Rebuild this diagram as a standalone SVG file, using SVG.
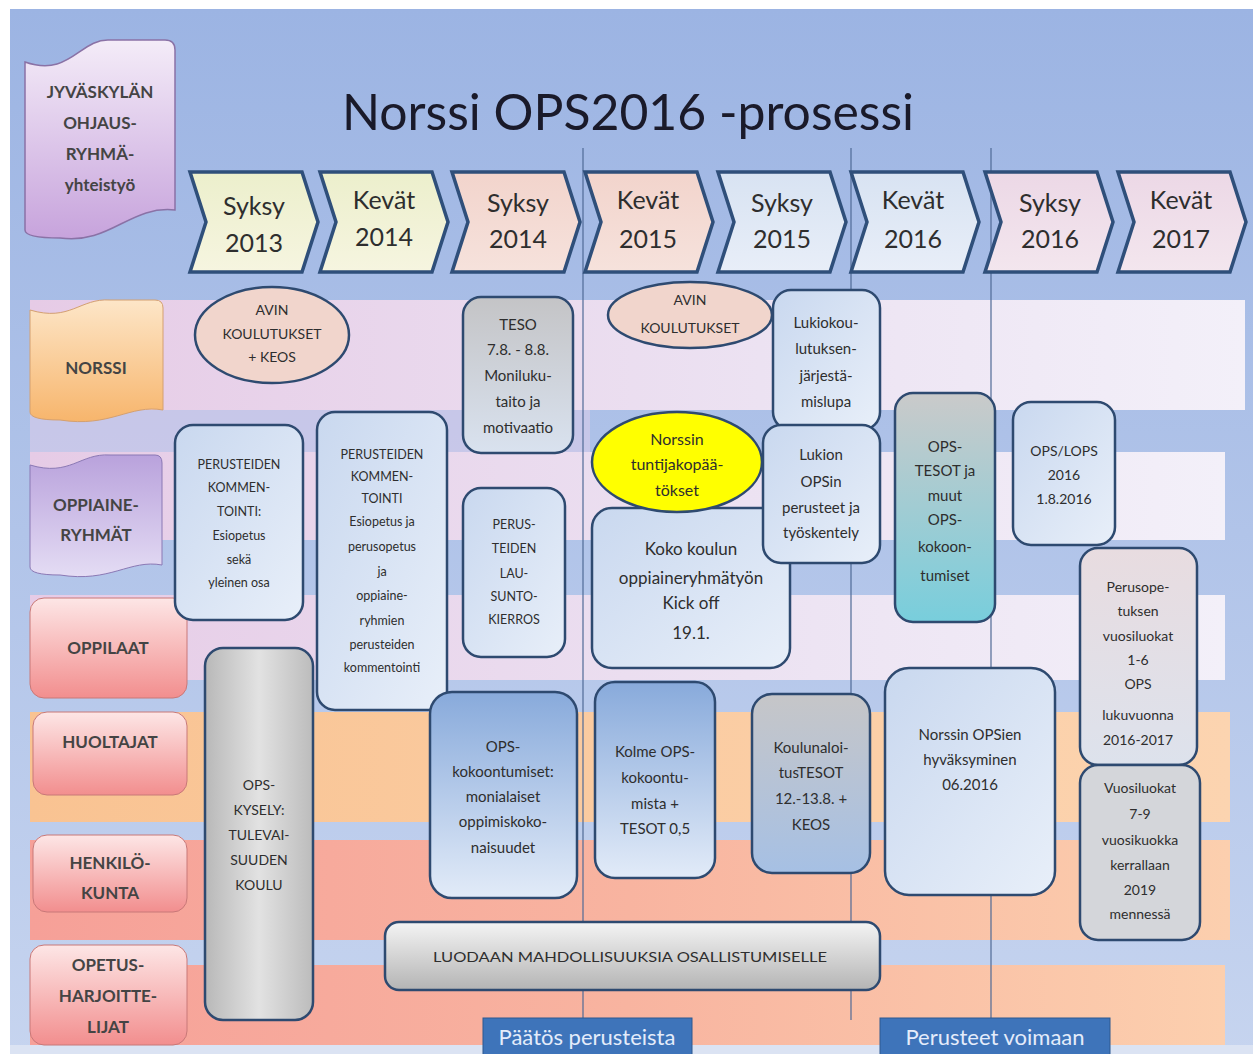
<svg xmlns="http://www.w3.org/2000/svg" width="1253" height="1054" viewBox="0 0 1253 1054">
<defs>
<linearGradient id="bg" x1="0" y1="0" x2="0" y2="1"><stop offset="0" stop-color="#9cb4e3"/><stop offset="1" stop-color="#c6d4ef"/></linearGradient>
<linearGradient id="bandLav" x1="0" y1="0" x2="1" y2="0"><stop offset="0" stop-color="#e6cbe6"/><stop offset="0.6" stop-color="#ece2f2"/><stop offset="1" stop-color="#f3f0f9"/></linearGradient>
<linearGradient id="bandOr" x1="0" y1="0" x2="1" y2="0"><stop offset="0" stop-color="#f9c392"/><stop offset="1" stop-color="#fcd4b0"/></linearGradient>
<linearGradient id="bandSal" x1="0" y1="0" x2="1" y2="0"><stop offset="0" stop-color="#f6a098"/><stop offset="0.5" stop-color="#f8b4a0"/><stop offset="1" stop-color="#fccfae"/></linearGradient>
<linearGradient id="gJyv" x1="0" y1="0" x2="0" y2="1"><stop offset="0" stop-color="#f4ecf8"/><stop offset="1" stop-color="#c7a3dc"/></linearGradient>
<linearGradient id="gNor" x1="0" y1="0" x2="0" y2="1"><stop offset="0" stop-color="#fde6c8"/><stop offset="1" stop-color="#f7b56c"/></linearGradient>
<linearGradient id="gOpp" x1="0" y1="0" x2="0" y2="1"><stop offset="0" stop-color="#b9a2dc"/><stop offset="1" stop-color="#e4dcf4"/></linearGradient>
<linearGradient id="gPink" x1="0" y1="0" x2="0" y2="1"><stop offset="0" stop-color="#fde6e6"/><stop offset="1" stop-color="#f28e8e"/></linearGradient>
<linearGradient id="cY" x1="0" y1="0" x2="0" y2="1"><stop offset="0" stop-color="#ecefcc"/><stop offset="1" stop-color="#f6f5e0"/></linearGradient>
<linearGradient id="cP" x1="0" y1="0" x2="0" y2="1"><stop offset="0" stop-color="#f2d4cc"/><stop offset="1" stop-color="#f6e2dc"/></linearGradient>
<linearGradient id="cB" x1="0" y1="0" x2="0" y2="1"><stop offset="0" stop-color="#d8e3f2"/><stop offset="1" stop-color="#e8eef8"/></linearGradient>
<linearGradient id="cL" x1="0" y1="0" x2="0" y2="1"><stop offset="0" stop-color="#ecd8e6"/><stop offset="1" stop-color="#f3e6ee"/></linearGradient>
<linearGradient id="gBL" x1="0" y1="0" x2="1" y2="1"><stop offset="0" stop-color="#c9d8ef"/><stop offset="1" stop-color="#e8eff9"/></linearGradient>
<linearGradient id="gBM" x1="0" y1="0" x2="0" y2="1"><stop offset="0" stop-color="#88aadb"/><stop offset="1" stop-color="#e2ebf8"/></linearGradient>
<linearGradient id="gGray" x1="0" y1="0" x2="0" y2="1"><stop offset="0" stop-color="#c4c4c6"/><stop offset="1" stop-color="#d9e2ef"/></linearGradient>
<linearGradient id="gGB" x1="0" y1="0" x2="0" y2="1"><stop offset="0" stop-color="#c6c6c8"/><stop offset="1" stop-color="#a6c0e4"/></linearGradient>
<linearGradient id="gTeal" x1="0" y1="0" x2="0" y2="1"><stop offset="0" stop-color="#cacaca"/><stop offset="1" stop-color="#78cedc"/></linearGradient>
<linearGradient id="gKys" x1="0" y1="0" x2="1" y2="0"><stop offset="0" stop-color="#b8b8b8"/><stop offset="0.5" stop-color="#e2e2e2"/><stop offset="1" stop-color="#bcbcbc"/></linearGradient>
<linearGradient id="gLuo" x1="0" y1="0" x2="0" y2="1"><stop offset="0" stop-color="#f4f4f4"/><stop offset="1" stop-color="#b4b4b4"/></linearGradient>
<linearGradient id="gPer" x1="0" y1="0" x2="0" y2="1"><stop offset="0" stop-color="#e8dce0"/><stop offset="1" stop-color="#dde2ec"/></linearGradient>
<style>
text{font-family:Lato,"Liberation Sans",sans-serif;fill:#2e2e2e;text-anchor:middle}
.lab{font-size:17px;font-weight:bold;fill:#444}
.chev{stroke:#2f4f7a;stroke-width:3.5}
.ct{font-size:25px;fill:#2e2e2e}
.box{stroke:#2e4a70;stroke-width:2.5}
.s13{font-size:12.5px}
.s14{font-size:14px}
.s15{font-size:15px}
.s16{font-size:16px}
.s17{font-size:17px}
.vl{stroke:#4f6a96;stroke-width:1.2}
.tag{fill:#3e74ba;stroke:#2d5890;stroke-width:1}
.tagt{font-size:22px;fill:#e4ecfa}
</style>
</defs>
<rect width="1253" height="1054" fill="#ffffff"/>
<rect x="10" y="9" width="1243" height="1045" fill="url(#bg)"/>
<rect x="10" y="1045" width="1243" height="9" fill="#dbe3f3"/>
<g id="bands">
<rect x="30" y="300" width="1215" height="110" fill="url(#bandLav)"/>
<rect x="30" y="410" width="560" height="42" fill="#d9cce9" opacity="0.6"/>
<rect x="30" y="452" width="1195" height="88" fill="url(#bandLav)"/>
<rect x="30" y="595" width="1195" height="85" fill="url(#bandLav)"/>
<rect x="30" y="712" width="1200" height="110" fill="url(#bandOr)"/>
<rect x="30" y="840" width="1200" height="100" fill="url(#bandSal)"/>
<rect x="30" y="965" width="1195" height="80" fill="url(#bandSal)"/>
</g>
<g id="connectors">
<line class="vl" x1="583" y1="148" x2="583" y2="1020"/>
<line class="vl" x1="851" y1="148" x2="851" y2="1020"/>
<line class="vl" x1="991" y1="148" x2="991" y2="1020"/>
</g>
<g id="title"><text x="628" y="130" style="font-size:50px;fill:#1a1a2a" textLength="572" lengthAdjust="spacingAndGlyphs">Norssi OPS2016 -prosessi</text></g>
<g id="jyvaskyla">
<path d="M25,62 C70,78 80,38 110,40 L165,40 Q175,40 175,50 L175,210 C130,205 110,245 60,238 Q25,238 25,230 Z" fill="url(#gJyv)" stroke="#8a72a6" stroke-width="1.5"/>
<text class="lab" x="100" y="98">JYVÄSKYLÄN</text>
<text class="lab" x="100" y="129">OHJAUS-</text>
<text class="lab" x="100" y="160">RYHMÄ-</text>
<text class="lab" x="100" y="191">yhteistyö</text>
</g>
<g id="chevrons">
<g id="c1"><path class="chev" d="M190,172 L302,172 L318,222 L302,272 L190,272 L206,222 Z" fill="url(#cY)"/><text class="ct" x="254" y="215">Syksy</text><text class="ct" x="254" y="252">2013</text></g>
<g id="c2"><path class="chev" d="M320,172 L432,172 L448,222 L432,272 L320,272 L336,222 Z" fill="url(#cY)"/><text class="ct" x="384" y="209">Kevät</text><text class="ct" x="384" y="246">2014</text></g>
<g id="c3"><path class="chev" d="M452,172 L564,172 L580,222 L564,272 L452,272 L468,222 Z" fill="url(#cP)"/><text class="ct" x="518" y="212">Syksy</text><text class="ct" x="518" y="248">2014</text></g>
<g id="c4"><path class="chev" d="M585,172 L697,172 L713,222 L697,272 L585,272 L601,222 Z" fill="url(#cP)"/><text class="ct" x="648" y="209">Kevät</text><text class="ct" x="648" y="248">2015</text></g>
<g id="c5"><path class="chev" d="M718,172 L830,172 L846,222 L830,272 L718,272 L734,222 Z" fill="url(#cB)"/><text class="ct" x="782" y="212">Syksy</text><text class="ct" x="782" y="248">2015</text></g>
<g id="c6"><path class="chev" d="M851,172 L963,172 L979,222 L963,272 L851,272 L867,222 Z" fill="url(#cB)"/><text class="ct" x="913" y="209">Kevät</text><text class="ct" x="913" y="248">2016</text></g>
<g id="c7"><path class="chev" d="M985,172 L1097,172 L1113,222 L1097,272 L985,272 L1001,222 Z" fill="url(#cL)"/><text class="ct" x="1050" y="212">Syksy</text><text class="ct" x="1050" y="248">2016</text></g>
<g id="c8"><path class="chev" d="M1118,172 L1230,172 L1246,222 L1230,272 L1118,272 L1134,222 Z" fill="url(#cL)"/><text class="ct" x="1181" y="209">Kevät</text><text class="ct" x="1181" y="248">2017</text></g>
</g>
<g id="row-labels">
<g id="norssi"><path d="M30,310 C70,322 80,298 110,300 L155,300 Q163,300 163,308 L163,410 C130,404 110,428 60,420 Q30,420 30,412 Z" fill="url(#gNor)" stroke="#d4a070" stroke-width="1"/><text class="lab" x="96" y="374">NORSSI</text></g>
<g id="oppiaineryhmat"><path d="M30,465 C70,477 80,453 110,455 L155,455 Q162,455 162,463 L162,565 C130,559 110,583 60,575 Q30,575 30,567 Z" fill="url(#gOpp)" stroke="#8a78b4" stroke-width="1"/><text class="lab" x="96" y="511">OPPIAINE-</text><text class="lab" x="96" y="541">RYHMÄT</text></g>
<g id="oppilaat"><rect x="30" y="598" width="157" height="100" rx="14" fill="url(#gPink)" stroke="#c87878" stroke-width="1"/><text class="lab" x="108" y="654">OPPILAAT</text></g>
<g id="huoltajat"><rect x="33" y="712" width="154" height="83" rx="14" fill="url(#gPink)" stroke="#c87878" stroke-width="1"/><text class="lab" x="110" y="748">HUOLTAJAT</text></g>
<g id="henkilokunta"><rect x="33" y="835" width="154" height="77" rx="14" fill="url(#gPink)" stroke="#c87878" stroke-width="1"/><text class="lab" x="110" y="869">HENKILÖ-</text><text class="lab" x="110" y="899">KUNTA</text></g>
<g id="opetusharjoittelijat"><rect x="30" y="945" width="157" height="100" rx="14" fill="url(#gPink)" stroke="#c87878" stroke-width="1"/><text class="lab" x="108" y="971">OPETUS-</text><text class="lab" x="108" y="1002">HARJOITTE-</text><text class="lab" x="108" y="1033">LIJAT</text></g>
</g>
<g id="n-kysely"><rect class="box" x="205" y="648" width="108" height="372" rx="18" fill="url(#gKys)"/><text class="s14" x="259" y="790">OPS-</text><text class="s14" x="259" y="815">KYSELY:</text><text class="s14" x="259" y="840">TULEVAI-</text><text class="s14" x="259" y="865">SUUDEN</text><text class="s14" x="259" y="890">KOULU</text></g>
<g id="n-avin1"><ellipse class="box" cx="272" cy="335" rx="77" ry="48" fill="#f1d5cc" stroke-width="2"/><text class="s14" x="272" y="315">AVIN</text><text class="s14" x="272" y="339">KOULUTUKSET</text><text class="s14" x="272" y="362">+ KEOS</text></g>
<g id="n-teso"><rect class="box" x="463" y="297" width="110" height="156" rx="18" fill="url(#gGray)"/><text class="s15" x="518" y="330">TESO</text><text class="s15" x="518" y="355">7.8. - 8.8.</text><text class="s15" x="518" y="381">Moniluku-</text><text class="s15" x="518" y="407">taito ja</text><text class="s15" x="518" y="433">motivaatio</text></g>
<g id="n-avin2"><ellipse class="box" cx="690" cy="315" rx="82" ry="33" fill="#f1d5cc" stroke-width="2"/><text class="s14" x="690" y="305">AVIN</text><text class="s14" x="690" y="333">KOULUTUKSET</text></g>
<g id="n-lukiokoulutus"><rect class="box" x="773" y="290" width="107" height="140" rx="18" fill="url(#gBL)"/><text class="s15" x="826" y="328">Lukiokou-</text><text class="s15" x="826" y="354">lutuksen-</text><text class="s15" x="826" y="381">järjestä-</text><text class="s15" x="826" y="407">mislupa</text></g>
<g id="n-perusteiden1"><rect class="box" x="175" y="425" width="128" height="195" rx="18" fill="url(#gBL)"/><text class="s13" x="239" y="469">PERUSTEIDEN</text><text class="s13" x="239" y="492">KOMMEN-</text><text class="s13" x="239" y="516">TOINTI:</text><text class="s13" x="239" y="540">Esiopetus</text><text class="s13" x="239" y="564">sekä</text><text class="s13" x="239" y="587">yleinen osa</text></g>
<g id="n-perusteiden2"><rect class="box" x="317" y="412" width="130" height="298" rx="18" fill="url(#gBL)"/><text class="s13" x="382" y="459">PERUSTEIDEN</text><text class="s13" x="382" y="481">KOMMEN-</text><text class="s13" x="382" y="503">TOINTI</text><text class="s13" x="382" y="526">Esiopetus ja</text><text class="s13" x="382" y="551">perusopetus</text><text class="s13" x="382" y="576">ja</text><text class="s13" x="382" y="600">oppiaine-</text><text class="s13" x="382" y="625">ryhmien</text><text class="s13" x="382" y="649">perusteiden</text><text class="s13" x="382" y="672">kommentointi</text></g>
<g id="n-lausunto"><rect class="box" x="463" y="488" width="102" height="169" rx="18" fill="url(#gBL)"/><text class="s13" x="514" y="529">PERUS-</text><text class="s13" x="514" y="553">TEIDEN</text><text class="s13" x="514" y="578">LAU-</text><text class="s13" x="514" y="601">SUNTO-</text><text class="s13" x="514" y="624">KIERROS</text></g>
<g id="n-kickoff"><rect class="box" x="592" y="508" width="198" height="160" rx="20" fill="url(#gBL)"/><text class="s17" x="691" y="555">Koko koulun</text><text class="s17" x="691" y="584">oppiaineryhmätyön</text><text class="s17" x="691" y="609">Kick off</text><text class="s17" x="691" y="639">19.1.</text></g>
<g id="n-lukion"><rect class="box" x="763" y="425" width="117" height="138" rx="18" fill="url(#gBL)"/><text class="s15" x="821" y="460">Lukion</text><text class="s15" x="821" y="487">OPSin</text><text class="s15" x="821" y="513">perusteet ja</text><text class="s15" x="821" y="538">työskentely</text></g>
<g id="n-tuntijako"><ellipse class="box" cx="677" cy="462" rx="85" ry="50" fill="#ffff00"/><text class="s16" x="677" y="445">Norssin</text><text class="s16" x="677" y="470">tuntijakopää-</text><text class="s16" x="677" y="496">tökset</text></g>
<g id="n-opstesot"><rect class="box" x="895" y="393" width="100" height="229" rx="18" fill="url(#gTeal)"/><text class="s15" x="945" y="452">OPS-</text><text class="s15" x="945" y="476">TESOT ja</text><text class="s15" x="945" y="501">muut</text><text class="s15" x="945" y="525">OPS-</text><text class="s15" x="945" y="552">kokoon-</text><text class="s15" x="945" y="581">tumiset</text></g>
<g id="n-opslops"><rect class="box" x="1013" y="402" width="102" height="143" rx="18" fill="url(#gBL)"/><text class="s14" x="1064" y="456">OPS/LOPS</text><text class="s14" x="1064" y="480">2016</text><text class="s14" x="1064" y="504">1.8.2016</text></g>
<g id="n-perusopetus"><rect class="box" x="1080" y="548" width="117" height="217" rx="18" fill="url(#gPer)"/><text class="s14" x="1138" y="592">Perusope-</text><text class="s14" x="1138" y="616">tuksen</text><text class="s14" x="1138" y="641">vuosiluokat</text><text class="s14" x="1138" y="665">1-6</text><text class="s14" x="1138" y="689">OPS</text><text class="s14" x="1138" y="720">lukuvuonna</text><text class="s14" x="1138" y="745">2016-2017</text></g>
<g id="n-vuosiluokat"><rect class="box" x="1080" y="765" width="120" height="175" rx="18" fill="#d4d6da" stroke="#2a3a52" stroke-width="3"/><text class="s14" x="1140" y="793">Vuosiluokat</text><text class="s14" x="1140" y="819">7-9</text><text class="s14" x="1140" y="845">vuosikuokka</text><text class="s14" x="1140" y="870">kerrallaan</text><text class="s14" x="1140" y="895">2019</text><text class="s14" x="1140" y="919">mennessä</text></g>
<g id="n-monialaiset"><rect class="box" x="430" y="692" width="147" height="206" rx="22" fill="url(#gBM)"/><text class="s15" x="503" y="752">OPS-</text><text class="s15" x="503" y="777">kokoontumiset:</text><text class="s15" x="503" y="802">monialaiset</text><text class="s15" x="503" y="827">oppimiskoko-</text><text class="s15" x="503" y="853">naisuudet</text></g>
<g id="n-kolme"><rect class="box" x="595" y="682" width="120" height="196" rx="20" fill="url(#gBM)"/><text class="s15" x="655" y="757">Kolme OPS-</text><text class="s15" x="655" y="783">kokoontu-</text><text class="s15" x="655" y="809">mista +</text><text class="s15" x="655" y="834">TESOT 0,5</text></g>
<g id="n-koulunaloitus"><rect class="box" x="752" y="694" width="118" height="179" rx="20" fill="url(#gGB)"/><text class="s15" x="811" y="753">Koulunaloi-</text><text class="s15" x="811" y="778">tusTESOT</text><text class="s15" x="811" y="804">12.-13.8. +</text><text class="s15" x="811" y="830">KEOS</text></g>
<g id="n-hyvaksyminen"><rect class="box" x="885" y="668" width="170" height="227" rx="24" fill="url(#gBL)"/><text class="s15" x="970" y="740">Norssin OPSien</text><text class="s15" x="970" y="765">hyväksyminen</text><text class="s15" x="970" y="790">06.2016</text></g>
<g id="n-luodaan"><rect class="box" x="385" y="922" width="495" height="68" rx="14" fill="url(#gLuo)" stroke="#555" stroke-width="2"/><text class="s14" x="630" y="962" textLength="394" lengthAdjust="spacingAndGlyphs">LUODAAN MAHDOLLISUUKSIA OSALLISTUMISELLE</text></g>
<g id="n-paatos"><rect class="tag" x="483" y="1018" width="209" height="40"/><text class="tagt" x="587" y="1045">Päätös perusteista</text></g>
<g id="n-voimaan"><rect class="tag" x="880" y="1018" width="230" height="40"/><text class="tagt" x="995" y="1045">Perusteet voimaan</text></g>
</svg>
